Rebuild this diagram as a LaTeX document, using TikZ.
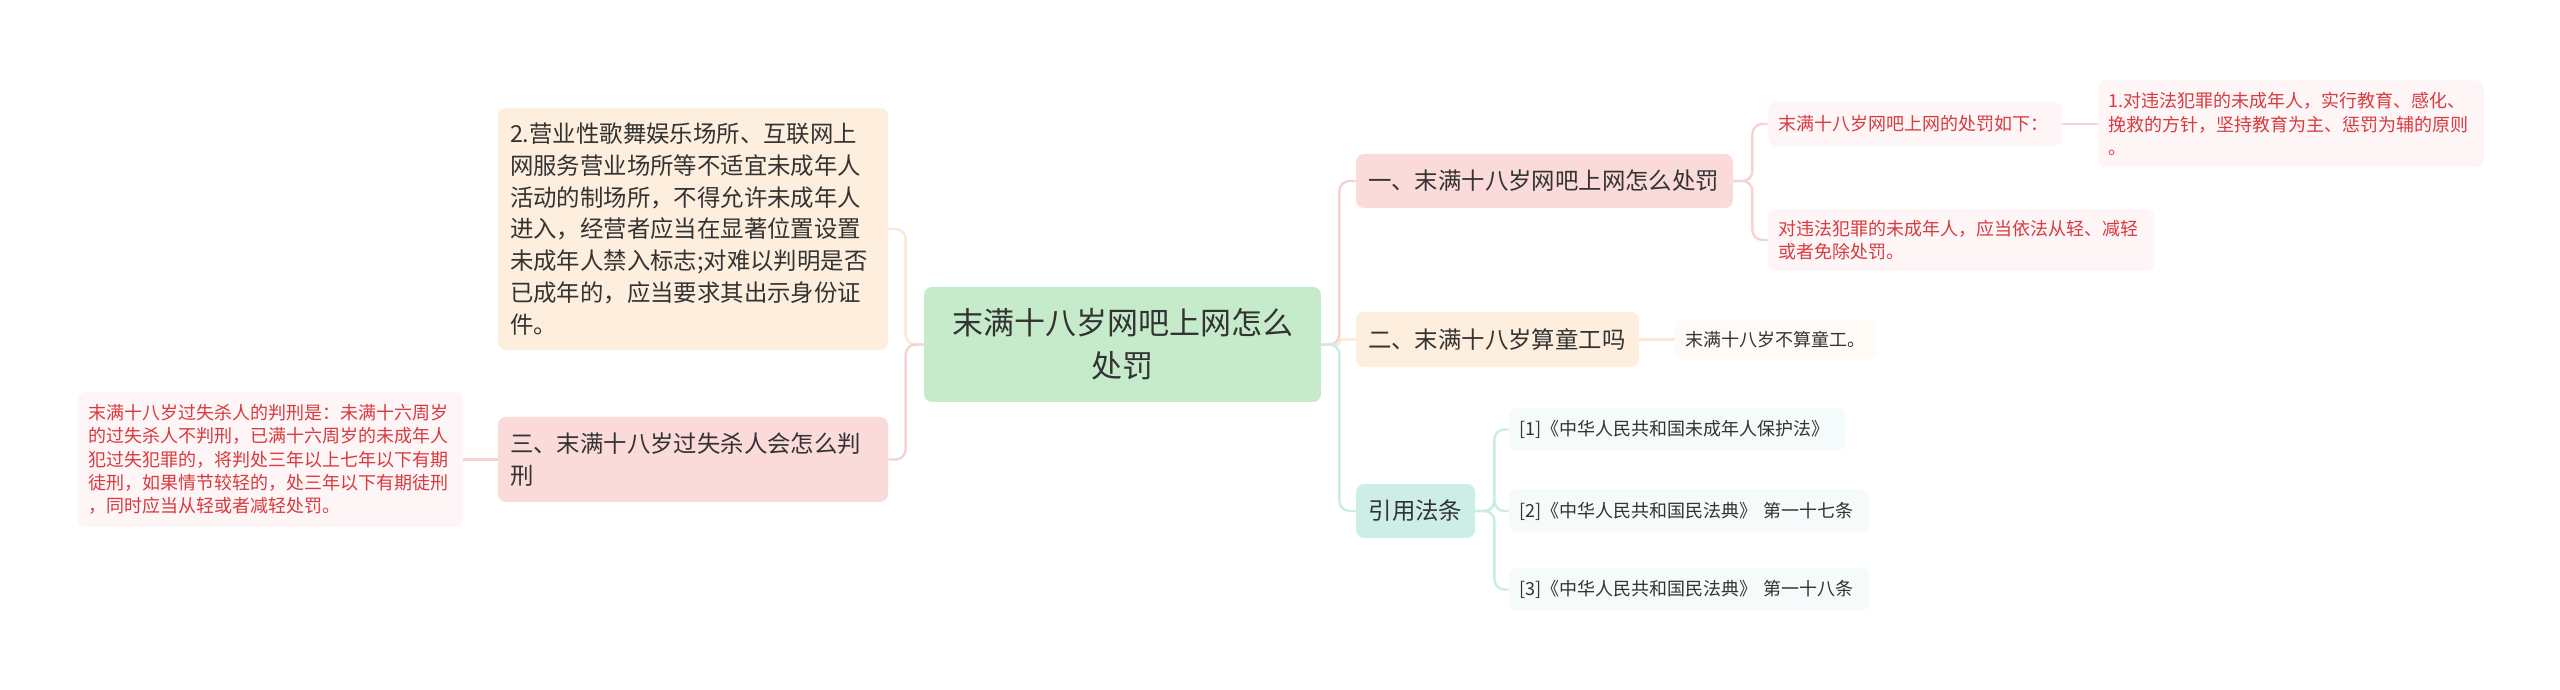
\documentclass[tikz,border=0pt]{standalone}
\usepackage{fontspec}
\setmainfont{Noto Sans CJK SC}
\definecolor{ink}{HTML}{333333}
\definecolor{redink}{HTML}{D83A3F}
\definecolor{mainfill}{HTML}{C6EBCB}
\definecolor{peachfill}{HTML}{FDEEDD}
\definecolor{pinkfill}{HTML}{FBDADA}
\definecolor{tealfill}{HTML}{CDEEE6}
\definecolor{redleaf}{HTML}{FEF6F6}
\definecolor{peachleaf}{HTML}{FFFAF5}
\definecolor{tealleaf}{HTML}{F5FBFA}
\definecolor{pinkline}{HTML}{F5D3D3}
\definecolor{peachline}{HTML}{FCE7D0}
\definecolor{tealline}{HTML}{C9ECE5}

\begin{document}
\begin{tikzpicture}[x=1pt,y=1pt,
  box/.style={rounded corners=4pt,inner xsep=6pt,inner ysep=2pt,align=left,text=ink},
  main/.style={box,fill=mainfill,align=center,font=\fontsize{15.5pt}{21.5pt}\selectfont},
  topic/.style={box,font=\fontsize{11.7pt}{15.9pt}\selectfont},
  leaf/.style={box,inner xsep=5pt,font=\fontsize{9pt}{11.7pt}\selectfont},
  link/.style={line width=1.2pt,rounded corners=5pt}]
\path[use as bounding box] (0,0) rectangle (1280,345);
% centre
\node[main,text width=186.5pt,minimum height=57.5pt] (root) at (561.25,172.75)
  {末满十八岁网吧上网怎么\\处罚};
% left side
\node[topic,fill=peachfill,text width=183pt,minimum height=121pt] (venue) at (346.5,230.5)
  {2.营业性歌舞娱乐场所、互联网上\\网服务营业场所等不适宜未成年人\\活动的制场所，不得允许未成年人\\进入，经营者应当在显著位置设置\\未成年人禁入标志;对难以判明是否\\已成年的，应当要求其出示身份证\\件。};
\node[topic,fill=pinkfill,text width=183pt,minimum height=42.5pt] (kill) at (346.5,115.25)
  {三、末满十八岁过失杀人会怎么判\\刑};
\node[leaf,fill=redleaf,text=redink,text width=182.5pt,minimum height=67.5pt] (killleaf) at (135.25,115.25)
  {末满十八岁过失杀人的判刑是：未满十六周岁\\的过失杀人不判刑，已满十六周岁的未成年人\\犯过失犯罪的，将判处三年以上七年以下有期\\徒刑，如果情节较轻的，处三年以下有期徒刑\\，同时应当从轻或者减轻处罚。};
% right side
\node[topic,fill=pinkfill,text width=176.5pt,minimum height=27pt] (penalty) at (772.25,254.5)
  {一、末满十八岁网吧上网怎么处罚};
\node[leaf,fill=redleaf,text=redink,text width=137pt,minimum height=22pt] (penaltya) at (957.5,283)
  {末满十八岁网吧上网的处罚如下：};
\node[leaf,fill=redleaf,text=redink,text width=183pt,minimum height=43.5pt] (policy) at (1145.5,283)
  {1.对违法犯罪的未成年人，实行教育、感化、\\挽救的方针，坚持教育为主、惩罚为辅的原则\\。};
\node[leaf,fill=redleaf,text=redink,text width=183pt,minimum height=31pt] (penaltyb) at (980.5,225)
  {对违法犯罪的未成年人，应当依法从轻、减轻\\或者免除处罚。};
\node[topic,fill=peachfill,text width=129.5pt,minimum height=27.5pt] (labour) at (748.75,175.25)
  {二、末满十八岁算童工吗};
\node[leaf,fill=peachleaf,text width=90.5pt,minimum height=20pt] (labourleaf) at (887.75,175.25)
  {末满十八岁不算童工。};
\node[topic,fill=tealfill,align=center,text width=47.5pt,minimum height=27pt] (laws) at (707.75,89.5)
  {引用法条};
\node[leaf,fill=tealleaf,text width=158pt,minimum height=21.5pt] (lawa) at (838.5,130.25)
  {[1]《中华人民共和国未成年人保护法》};
\node[leaf,fill=tealleaf,text width=170pt,minimum height=21.5pt] (lawb) at (844.5,89.5)
  {[2]《中华人民共和国民法典》 第一十七条};
\node[leaf,fill=tealleaf,text width=170pt,minimum height=21.5pt] (lawc) at (844.5,50.25)
  {[3]《中华人民共和国民法典》 第一十八条};
% connectors
\draw[link,peachline] (root.west) -- ++(-9,0) |- (venue.east);
\draw[link,pinkline] (root.west) -- ++(-9,0) |- (kill.east);
\draw[link,pinkline] (killleaf.east) -- (kill.west);
\draw[link,pinkline] (root.east) -- ++(9,0) |- (penalty.west);
\draw[link,peachline,rounded corners=1pt] (root.east) -- ++(9,0) |- (labour.west);
\draw[link,tealline] (root.east) -- ++(9,0) |- (laws.west);
\draw[link,pinkline] (penalty.east) -- ++(9.5,0) |- (penaltya.west);
\draw[link,pinkline] (penalty.east) -- ++(9.5,0) |- (penaltyb.west);
\draw[link,pinkline] (penaltya.east) -- (policy.west);
\draw[link,peachline] (labour.east) -- (labourleaf.west);
\foreach \n in {lawa,lawb,lawc}
  \draw[link,tealline] (laws.east) -- ++(9.5,0) |- (\n.west);
\end{tikzpicture}
\end{document}
